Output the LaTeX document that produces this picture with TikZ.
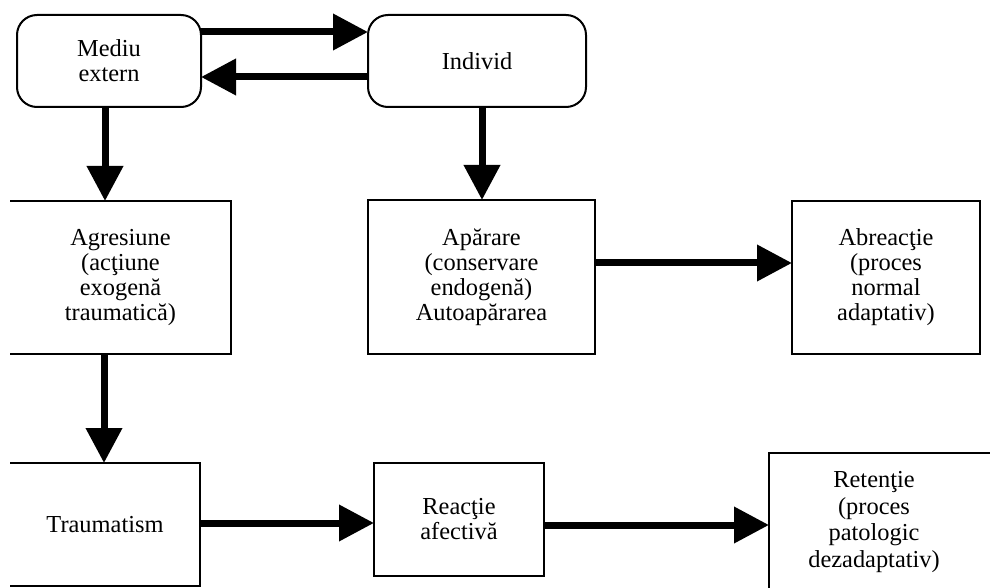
\documentclass[tikz,border=0pt]{standalone}
\usepackage{fontspec}
\setmainfont{Liberation Serif}
\usetikzlibrary{arrows.meta}
\begin{document}
\begin{tikzpicture}[x=0.5pt,y=-0.5pt,
  txt/.style={align=center, font=\fontsize{12.2}{12.5}\selectfont},
  box/.style={txt, draw, line width=1pt, inner sep=0pt, outer sep=0pt},
  rbox/.style={box, rounded corners=10pt},
  openbox/.style={box, draw=none},
  edge/.style={line width=1pt},
  arr/.style={line width=3.5pt, -{Triangle[length=17.5pt,width=17.5pt]}},
]
\useasboundingbox (0,0) rectangle (990,588);

% top row: rounded boxes
\node[rbox, minimum width=92pt, minimum height=46pt] (mediu) at (109,61) {Mediu\\extern};
\node[rbox, minimum width=109pt, minimum height=46pt] (individ) at (477,61) {Individ};

% middle row
\node[openbox, minimum width=110.5pt, minimum height=76.5pt] (agr) at (120.5,277.5)
  {Agresiune\\(acţiune\\exogenă\\traumatică)};
\draw[edge] (agr.north west) -- (agr.north east) -- (agr.south east) -- (agr.south west);
\node[box, minimum width=113.5pt, minimum height=77pt] (apar) at (481.5,277)
  {Apărare\\(conservare\\endogenă)\\Autoapărarea};
\node[box, minimum width=94pt, minimum height=76.5pt] (abr) at (886,277.5)
  {Abreacţie\\(proces\\normal\\adaptativ)};

% bottom row
\node[openbox, minimum width=95pt, minimum height=61.5pt] (trau) at (105,524.5) {Traumatism};
\draw[edge] (trau.north west) -- (trau.north east) -- (trau.south east) -- (trau.south west);
\node[box, minimum width=85pt, minimum height=56.5pt] (reac) at (459,519.5) {Reacţie\\afectivă};
\node[box, anchor=north west, minimum width=125pt, minimum height=80pt] (ret) at (769,453) {};
\node[txt, font=\fontsize{12.2}{13.2}\selectfont] (rettext) at (874,522)
  {Retenţie\\(proces\\patologic\\dezadaptativ)};

% connectors
\draw[arr] (mediu.east |- 0,32) -- (individ.west |- 0,32);
\draw[arr] (individ.west |- 0,77) -- (mediu.east |- 0,77);
\draw[arr] (mediu.south -| 105,0) -- (agr.north -| 105,0);
\draw[arr] (individ.south -| 482,0) -- (apar.north -| 482,0);
\draw[arr] (apar.east |- 0,263) -- (abr.west |- 0,263);
\draw[arr] (agr.south -| 104,0) -- (trau.north -| 104,0);
\draw[arr] (trau.east |- 0,523) -- (reac.west |- 0,523);
\draw[arr] (reac.east |- 0,525) -- (ret.west |- 0,525);
\end{tikzpicture}
\end{document}
